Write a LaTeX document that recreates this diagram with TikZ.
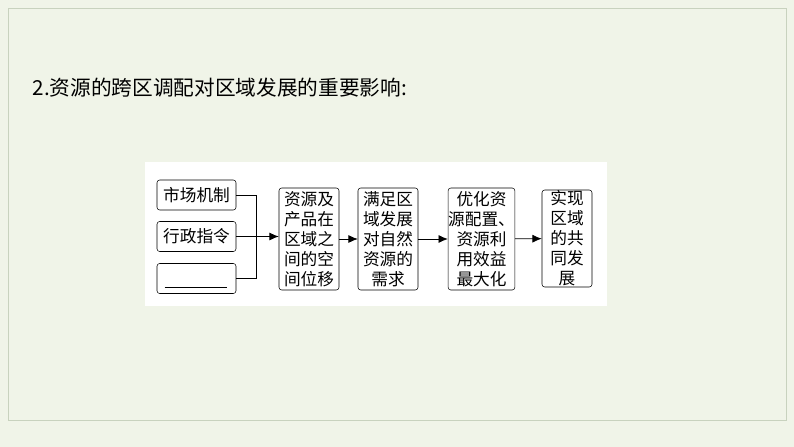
\documentclass[tikz,border=0pt]{standalone}
\usepackage{fontspec}
\newfontfamily\cjk{Noto Sans CJK SC}
\usepackage{tikz}
\usetikzlibrary{positioning,arrows.meta}
\definecolor{pagebg}{RGB}{240,244,232}
\definecolor{frameln}{RGB}{200,210,190}
\begin{document}
\begin{tikzpicture}[x=0.75pt,y=-0.75pt,
box/.style={draw=black, rounded corners=2pt, inner sep=0pt, align=center, font=\cjk\fontsize{12.5}{15}\selectfont},
small/.style={box, minimum width=59.25pt, minimum height=22.5pt},
step box/.style={box, minimum width=45pt, minimum height=76.5pt},
flow/.style={-{Latex[length=7pt,width=6pt]}, semithick}]
\fill[pagebg] (0,0) rectangle (794,447);
\draw[frameln] (8,8) rectangle (786,420);
\useasboundingbox (0,0) rectangle (794,447);
\node[anchor=west, font=\cjk\fontsize{15.5}{18}\selectfont] (title) at (28,88) {2.资源的跨区调配对区域发展的重要影响:};
\fill[white] (145,162) rectangle (607,306);

\node[small] (m1) at (196.5,195) {市场机制};
\node[small] (m2) at (196.5,236.5) {行政指令};
\node[small] (m3) at (196.5,278.5) {};
\draw (m3.south west) ++(6pt,5pt) coordinate (u1) -- ++(47pt,0);

\node[step box] (a) at (309,239) {资源及\\产品在\\区域之\\间的空\\间位移};
\node[step box] (b) at (388,239) {满足区\\域发展\\对自然\\资源的\\需求};
\node[step box, minimum width=47pt] (c) at (481.5,239) {优化资\\源配置、\\资源利\\用效益\\最大化};
\node[step box, minimum width=37.5pt, minimum height=72.75pt] (d) at (567,238.5) {实现\\区域\\的共\\同发\\展};

\coordinate (j1) at (256,195);
\coordinate (j3) at (256,278.5);
\draw (m1.east) -- (j1) -- (j3) -- (m3.east);
\draw[flow] (m2.east) -- (a.west |- m2.east);
\draw[flow] (a) -- (b);
\draw[flow] (b) -- (c);
\draw[flow] (c) -- (d);
\end{tikzpicture}
\end{document}
